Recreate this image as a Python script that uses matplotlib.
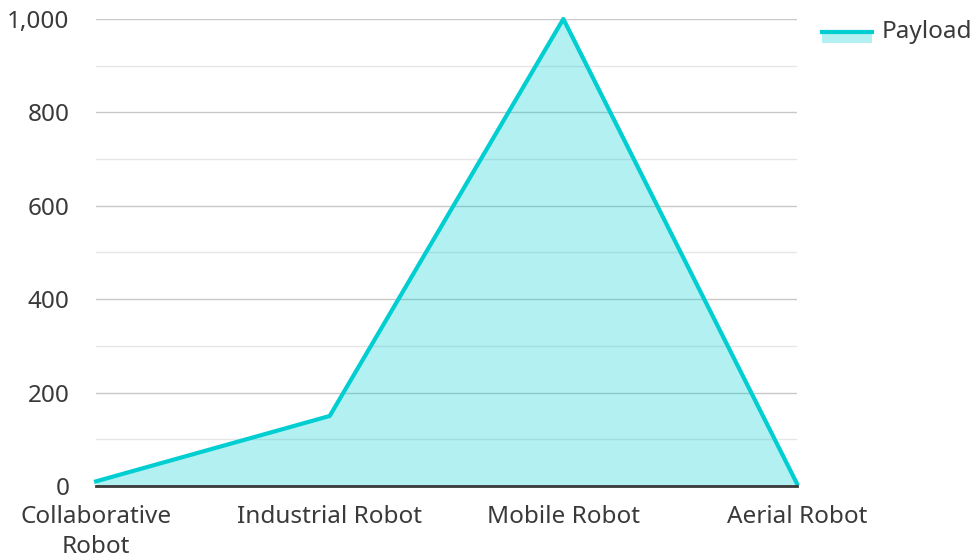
import matplotlib.pyplot as plt
from matplotlib.lines import Line2D
from matplotlib.patches import Rectangle

plt.rcParams['font.family'] = ['Noto Sans', 'DejaVu Sans']

categories = ["Collaborative\nRobot", "Industrial Robot", "Mobile Robot", "Aerial Robot"]
payload = [10, 150, 1000, 5]
y_ticks = [0, 200, 400, 600, 800, 1000]
y_tick_labels = ["0", "200", "400", "600", "800", "1,000"]

line_color = "#00CED1"
text_color = "#3a3a3a"

fig = plt.figure(figsize=(9.76, 5.58), dpi=100)
ax = fig.add_axes([0.0984, 0.129, 0.7182, 0.837])

x = list(range(len(categories)))
ax.fill_between(x, payload, 0, color=line_color, alpha=0.3, linewidth=0, zorder=2)
ax.plot(x, payload, color=line_color, linewidth=3, zorder=3, clip_on=False)

ax.set_xlim(0, len(categories) - 1)
ax.set_ylim(0, 1000)
ax.set_xticks(x)
ax.set_xticklabels(categories, fontsize=17.5, color=text_color, linespacing=1.3)
ax.set_yticks(y_ticks)
ax.set_yticklabels(y_tick_labels, fontsize=17.5, color=text_color)
ax.set_yticks(range(100, 1000, 200), minor=True)

ax.grid(axis="y", which="major", color="#c8c8c8", linewidth=1, zorder=1)
ax.grid(axis="y", which="minor", color="#e6e6e6", linewidth=1, zorder=1)
ax.tick_params(axis="both", which="both", length=0)
ax.tick_params(axis="x", pad=14)
ax.tick_params(axis="y", pad=19)

for side in ["top", "right", "left"]:
    ax.spines[side].set_visible(False)
ax.spines["bottom"].set_color(text_color)
ax.spines["bottom"].set_linewidth(2)
ax.spines["bottom"].set_zorder(4)

# legend drawn by hand: fill swatch with the line along its top edge
fig.patches.append(Rectangle((822 / 976, 1 - 43 / 558), 50 / 976, 13 / 558,
                             transform=fig.transFigure, facecolor=line_color,
                             alpha=0.3, linewidth=0))
fig.lines.append(Line2D([822 / 976, 872 / 976], [1 - 31.5 / 558, 1 - 31.5 / 558],
                        transform=fig.transFigure, color=line_color, linewidth=3))
fig.text(882 / 976, 1 - 32 / 558, "Payload", fontsize=17.5, color=text_color,
         va="center", ha="left")

fig.savefig("out.png", dpi=100)
